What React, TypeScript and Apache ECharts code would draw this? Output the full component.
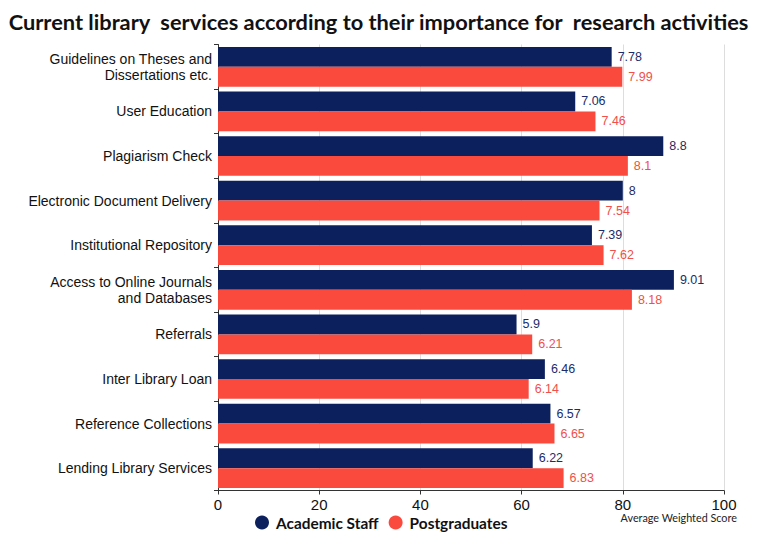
import React, { useEffect, useRef } from "react";
import * as echarts from "echarts";

const categories = [
  "Guidelines on Theses and\nDissertations etc.",
  "User Education",
  "Plagiarism Check",
  "Electronic Document Delivery",
  "Institutional Repository",
  "Access to Online Journals\nand Databases",
  "Referrals",
  "Inter Library Loan",
  "Reference Collections",
  "Lending Library Services",
];
const academicStaff = [7.78, 7.06, 8.8, 8, 7.39, 9.01, 5.9, 6.46, 6.57, 6.22];
const postgraduates = [7.99, 7.46, 8.1, 7.54, 7.62, 8.18, 6.21, 6.14, 6.65, 6.83];
const tickLabels = ["0", "20", "40", "60", "80", "100"];

const NAVY = "#0c205e";
const RED = "#fa4a3e";

export default function App() {
  const ref = useRef<HTMLDivElement>(null);
  useEffect(() => {
    if (!ref.current) return;
    const chart = echarts.init(ref.current, undefined, { renderer: "svg" });
    chart.setOption({
      animation: false,
      backgroundColor: "#ffffff",
      title: {
        text: "Current library  services according to their importance for  research activities",
        left: "center",
        top: 5,
        textStyle: {
          fontFamily: "Lato",
          fontWeight: "bold",
          fontSize: 21.8,
          color: "#111111",
        },
      },
      legend: {
        left: 255,
        top: 515,
        icon: "circle",
        itemWidth: 14,
        itemHeight: 14,
        itemGap: 10,
        textStyle: {
          fontFamily: "Lato",
          fontWeight: "bold",
          fontSize: 15.4,
          color: "#111111",
          padding: [0, 0, 0, 2],
        },
        padding: 0,
        data: ["Academic Staff", "Postgraduates"],
      },
      grid: { left: 218, right: 33, top: 44.5, bottom: 42.5, containLabel: false },
      xAxis: {
        type: "value",
        min: 0,
        max: 10,
        interval: 2,
        axisLine: { show: true, lineStyle: { color: "#333333", width: 1 } },
        axisTick: { show: true, length: 4, lineStyle: { color: "#333333" } },
        splitLine: { show: true, lineStyle: { color: "#dddddd", width: 1 } },
        axisLabel: {
          fontFamily: "Liberation Sans",
          fontSize: 15,
          color: "#111111",
          margin: 6,
          formatter: (v: number) => tickLabels[Math.round(v / 2)] ?? String(v * 10),
        },
      },
      yAxis: {
        type: "category",
        inverse: true,
        data: categories,
        axisLine: { show: true, lineStyle: { color: "#333333", width: 1 } },
        axisTick: { show: true, length: 4, alignWithLabel: false, lineStyle: { color: "#333333" } },
        axisLabel: {
          fontFamily: "Liberation Sans",
          fontSize: 14,
          lineHeight: 16,
          color: "#111111",
          margin: 6,
          align: "right",
        },
      },
      graphic: [
        {
          type: "text",
          right: 20,
          top: 512,
          style: {
            text: "Average Weighted Score",
            fontFamily: "Lato",
            fontSize: 10.8,
            fill: "#222222",
          },
        },
      ],
      series: [
        {
          name: "Academic Staff",
          type: "bar",
          data: academicStaff,
          barGap: "0%",
          barCategoryGap: "11%",
          itemStyle: { color: NAVY },
          label: {
            show: true,
            position: "right",
            distance: 6,
            fontFamily: "Liberation Sans",
            fontSize: 12.5,
            color: "#1c2c6a",
            formatter: (p: any) => String(p.value),
          },
        },
        {
          name: "Postgraduates",
          type: "bar",
          data: postgraduates,
          barGap: "0%",
          barCategoryGap: "11%",
          itemStyle: { color: RED },
          label: {
            show: true,
            position: "right",
            distance: 6,
            fontFamily: "Liberation Sans",
            fontSize: 12.5,
            color: "#f0504a",
            formatter: (p: any) => String(p.value),
          },
        },
      ],
    });
    return () => chart.dispose();
  }, []);
  return (
    <div
      ref={ref}
      style={{ position: "fixed", left: 0, top: 0, width: 757, height: 533, background: "#fff" }}
    />
  );
}
